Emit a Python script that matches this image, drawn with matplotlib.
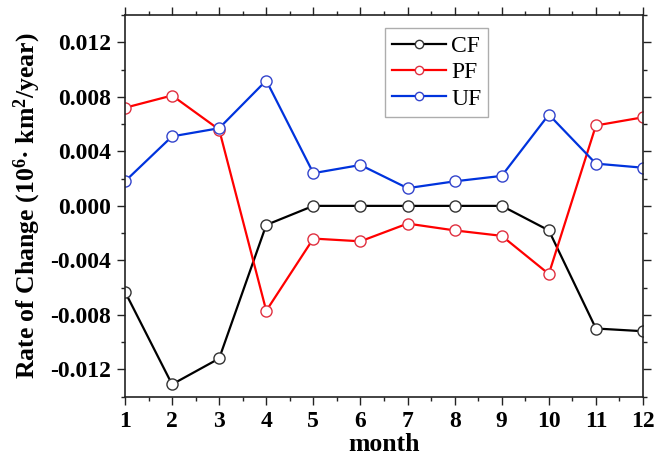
import matplotlib
matplotlib.use("Agg")
import matplotlib.pyplot as plt
from matplotlib.ticker import MultipleLocator, FormatStrFormatter

plt.rcParams['font.family'] = ['Liberation Serif', 'DejaVu Serif']
plt.rcParams['axes.unicode_minus'] = False
plt.rcParams['mathtext.fontset'] = 'custom'
plt.rcParams['mathtext.rm'] = 'Liberation Serif:bold'
plt.rcParams['mathtext.it'] = 'Liberation Serif:bold'
plt.rcParams['mathtext.bf'] = 'Liberation Serif:bold'

months = list(range(1, 13))
cf = [-0.0063, -0.0131, -0.0112, -0.0014, 0.0000, 0.0000, 0.0000, 0.0000, 0.0000, -0.0018, -0.0090, -0.0092]
pf = [0.0072, 0.0081, 0.0056, -0.0077, -0.0024, -0.0026, -0.0013, -0.0018, -0.0022, -0.0050, 0.0059, 0.0065]
uf = [0.0018, 0.0051, 0.0057, 0.0092, 0.0024, 0.0030, 0.0013, 0.0018, 0.0022, 0.0067, 0.0031, 0.0028]
series_names = ['CF', 'PF', 'UF']

fig = plt.figure(figsize=(6.55, 4.58), dpi=100)
ax = fig.add_axes([0.1908, 0.134, 0.7909, 0.833])

styles = [
    (cf, '#000000', '#333333'),
    (pf, '#ff0000', '#e03040'),
    (uf, '#0033dd', '#3344cc'),
]
for (vals, lc, mc), name in zip(styles, series_names):
    ax.plot(months, vals, color=lc, lw=1.6, marker='o', markersize=8,
            markerfacecolor='white', markeredgecolor=mc, markeredgewidth=1.0,
            label=name)

ax.set_xlim(1, 12)
ax.set_ylim(-0.014, 0.014)
ax.xaxis.set_major_locator(MultipleLocator(1))
ax.xaxis.set_minor_locator(MultipleLocator(0.5))
ax.yaxis.set_major_locator(MultipleLocator(0.004))
ax.yaxis.set_minor_locator(MultipleLocator(0.002))
ax.yaxis.set_major_formatter(FormatStrFormatter('%.3f'))

ax.tick_params(which='both', direction='out', top=True, right=True, width=1.0, color='#222222')
ax.tick_params(which='major', length=6)
ax.tick_params(which='minor', length=3)
ax.tick_params(axis='both', labelsize=17, pad=4)
ax.tick_params(top=True, labeltop=False, right=True, labelright=False)
for lab in ax.get_xticklabels() + ax.get_yticklabels():
    lab.set_fontweight('bold')
for sp in ax.spines.values():
    sp.set_linewidth(1.2)
    sp.set_color('#222222')

ax.set_xlabel('month', fontsize=18.5, fontweight='bold', labelpad=1)
ax.set_ylabel('Rate of Change (10$^{6}$· km$^{2}$/year)', fontsize=18.5, fontweight='bold', labelpad=5)

leg = ax.legend(loc='upper left', bbox_to_anchor=(0.502, 0.965), fontsize=17,
                frameon=True, fancybox=False, edgecolor='#999999',
                handlelength=2.3, handletextpad=0.2, borderpad=0.3, labelspacing=0.2,
                borderaxespad=0, markerscale=0.75)
leg.get_frame().set_linewidth(1.0)

fig.savefig('out.png', dpi=100)
